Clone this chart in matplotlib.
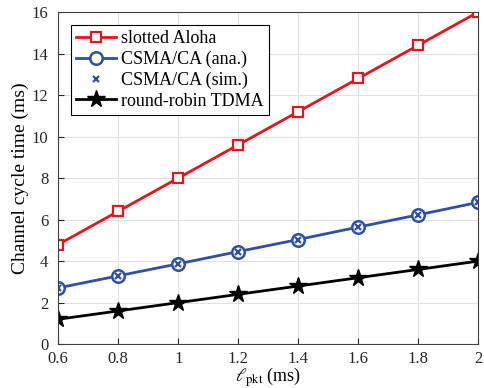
import matplotlib
matplotlib.use('Agg')
import matplotlib.pyplot as plt
import numpy as np

plt.rcParams['font.family'] = 'Liberation Serif'
plt.rcParams['mathtext.fontset'] = 'stix'

# data
l_pkt = [0.6, 0.8, 1.0, 1.2, 1.4, 1.6, 1.8, 2.0]
aloha = [4.8, 6.4, 8.0, 9.6, 11.2, 12.8, 14.4, 16.0]
csma_ana = [2.71, 3.29, 3.87, 4.46, 5.04, 5.64, 6.23, 6.83]
csma_sim = [2.71, 3.29, 3.87, 4.46, 5.04, 5.64, 6.23, 6.83]
tdma = [1.2, 1.6, 2.0, 2.4, 2.8, 3.2, 3.6, 4.0]

fig = plt.figure(figsize=(4.85, 3.88), dpi=100, facecolor='w')
ax = fig.add_axes([0.12, 0.113, 0.866, 0.856])

ax.plot(l_pkt, aloha, color='#e8141c', lw=2, marker='s', ms=7, mfc='w',
        mec='#e8141c', mew=1.6, label='slotted Aloha')
ax.plot(l_pkt, csma_ana, color='#2f4fa8', lw=2, marker='o', ms=9, mfc='w',
        mec='#2f4fa8', mew=1.8, label='CSMA/CA (ana.)')
ax.plot(l_pkt, csma_sim, ls='none', marker='x', ms=5, color='#2f4fa8',
        mew=1.6, label='CSMA/CA (sim.)')
ax.plot(l_pkt, tdma, color='k', lw=2, marker='*', ms=13,
        label='round-robin TDMA')

ax.set_xlim(0.6, 2)
ax.set_ylim(0, 16)
ax.set_xticks([0.6, 0.8, 1, 1.2, 1.4, 1.6, 1.8, 2])
ax.set_xticklabels(['0.6', '0.8', '1', '1.2', '1.4', '1.6', '1.8', '2'])
ax.set_yticks(range(0, 17, 2))
ax.grid(True, color='#e0e0e0', lw=0.8)
ax.tick_params(direction='in', labelsize=12, colors='#262626', length=4)
ax.tick_params(axis='x', pad=5)
ax.tick_params(axis='y', pad=7)
for s in ax.spines.values():
    s.set_color('#404040')
ax.set_xlabel(r'$\ell_{\mathrm{pkt}}$ (ms)', fontsize=13, labelpad=-1)
ax.set_ylabel('Channel cycle time (ms)', fontsize=14, labelpad=2)

leg = ax.legend(loc='upper left', fontsize=13, fancybox=False,
                edgecolor='k', framealpha=1, borderpad=0.3,
                handlelength=2.2, handletextpad=0.3, labelspacing=0.2,
                borderaxespad=0.7)
leg.get_frame().set_linewidth(0.8)

fig.savefig('out.png', dpi=100)
